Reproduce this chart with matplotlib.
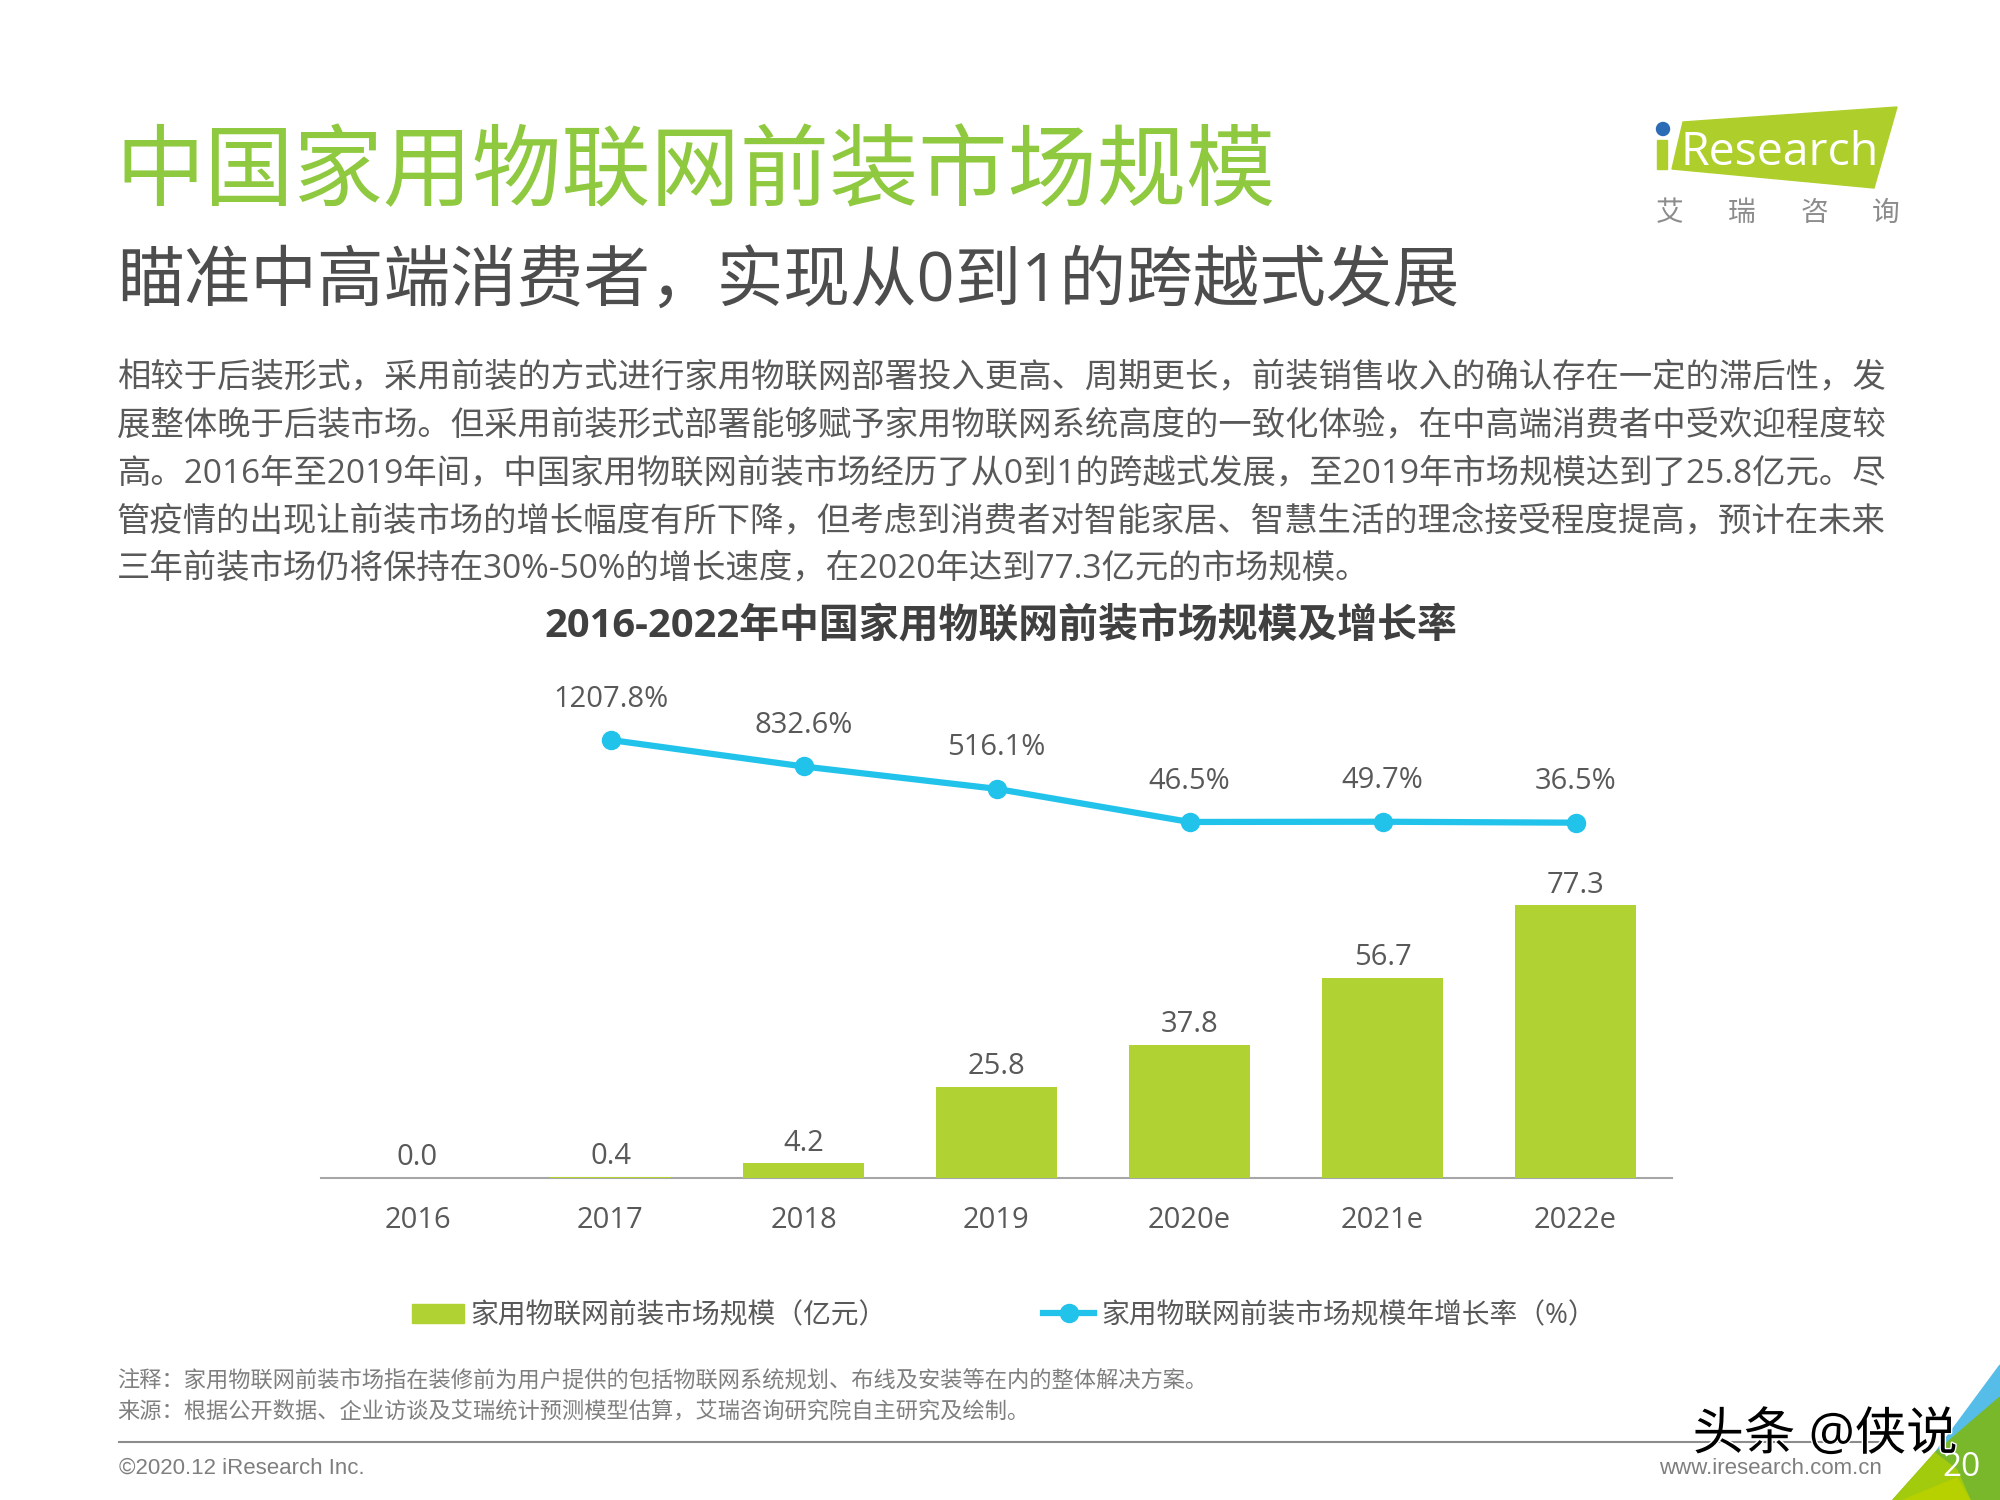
import matplotlib
matplotlib.use("Agg")
import matplotlib.pyplot as plt
import matplotlib.patheffects as pe
from matplotlib.patches import Polygon, Circle, Patch
from matplotlib.lines import Line2D

plt.rcParams["font.family"] = ["Open Sans", "Noto Sans CJK SC", "DejaVu Sans"]

# chart data
years = ["2016", "2017", "2018", "2019", "2020e", "2021e", "2022e"]
market_size = [0.0, 0.4, 4.2, 25.8, 37.8, 56.7, 77.3]
growth_years = [1, 2, 3, 4, 5, 6]
growth_rate = [1207.8, 832.6, 516.1, 46.5, 49.7, 36.5]
growth_labels = ["1207.8%", "832.6%", "516.1%", "46.5%", "49.7%", "36.5%"]

# page text
title = "中国家用物联网前装市场规模"
subtitle = "瞄准中高端消费者，实现从0到1的跨越式发展"
body_lines = [
    "相较于后装形式，采用前装的方式进行家用物联网部署投入更高、周期更长，前装销售收入的确认存在一定的滞后性，发",
    "展整体晚于后装市场。但采用前装形式部署能够赋予家用物联网系统高度的一致化体验，在中高端消费者中受欢迎程度较",
    "高。2016年至2019年间，中国家用物联网前装市场经历了从0到1的跨越式发展，至2019年市场规模达到了25.8亿元。尽",
    "管疫情的出现让前装市场的增长幅度有所下降，但考虑到消费者对智能家居、智慧生活的理念接受程度提高，预计在未来",
    "三年前装市场仍将保持在30%-50%的增长速度，在2020年达到77.3亿元的市场规模。",
]
chart_title = "2016-2022年中国家用物联网前装市场规模及增长率"
legend_bar = "家用物联网前装市场规模（亿元）"
legend_line = "家用物联网前装市场规模年增长率（%）"
note_lines = [
    "注释：家用物联网前装市场指在装修前为用户提供的包括物联网系统规划、布线及安装等在内的整体解决方案。",
    "来源：根据公开数据、企业访谈及艾瑞统计预测模型估算，艾瑞咨询研究院自主研究及绘制。",
]

GREEN = "#8FC93F"
BAR = "#B0D232"
LINE = "#22C3EB"
DARK = "#404040"
LABEL = "#595959"
W, H = 2000, 1500

fig = plt.figure(figsize=(20, 15), dpi=100, facecolor="white")

# chart axes, placed in page pixels
left, right, bottom, top = 321, 1672, 1178, 681
ax = fig.add_axes([left / W, 1 - bottom / H, (right - left) / W, (bottom - top) / H])
ax.set_xlim(-0.5, 6.5)
ax.set_ylim(0, 140.8)
ax.patch.set_alpha(0)
ax.bar(range(len(years)), market_size, width=0.625, color=BAR, zorder=3)
for i, v in enumerate(market_size):
    ax.annotate(f"{v:.1f}", (i, v), xytext=(0, 4), textcoords="offset points",
                ha="center", va="bottom", fontsize=21, color=LABEL)
ax.set_xticks(range(len(years)))
ax.set_xticklabels(years, fontsize=21, color=LABEL)
ax.tick_params(axis="x", length=0, pad=20)
ax.set_yticks([])
for s in ["top", "left", "right"]:
    ax.spines[s].set_visible(False)
ax.spines["bottom"].set_color("#A6A6A6")
ax.spines["bottom"].set_linewidth(1.5)

# growth line has its own hidden scale
ax2 = ax.twinx()
ax2.set_ylim(-4996, 2043)
ax2.plot(growth_years, growth_rate, color=LINE, linewidth=4.5, marker="o", markersize=13)
for x, y, t in zip(growth_years, growth_rate, growth_labels):
    ax2.annotate(t, (x, y), xytext=(0, 19), textcoords="offset points",
                 ha="center", va="bottom", fontsize=21, color=LABEL)
ax2.set_yticks([])
for s in ax2.spines.values():
    s.set_visible(False)

handles = [
    Patch(color=BAR, label=legend_bar),
    Line2D([], [], color=LINE, linewidth=4.5, marker="o", markersize=13, label=legend_line),
]
fig.legend(handles=handles, loc="center", bbox_to_anchor=(1004 / W, 1 - 1316 / H), ncol=2,
           frameon=False, fontsize=20, labelcolor=LABEL, columnspacing=5.62,
           handlelength=1.85, handletextpad=0.25, handleheight=0.7)

# overlay for everything else on the page
page = fig.add_axes([0, 0, 1, 1], zorder=5)
page.set_xlim(0, W)
page.set_ylim(H, 0)
page.axis("off")

page.text(115, 176, title, fontsize=64.3, color=GREEN, va="center")
page.text(117, 284, subtitle, fontsize=48, color="#4D4D4D", va="center")
for y, line in zip([379, 427, 475, 523, 570], body_lines):
    page.text(117, y, line, fontsize=24, color=LABEL, va="center")
page.text(1001, 627, chart_title, fontsize=28.7, color=DARK, weight="bold", ha="center", va="center")
for y, line in zip([1381, 1413], note_lines):
    page.text(117, y, line, fontsize=16, color="#7F7F7F", va="center")

# footer
page.plot([119, 1880], [1442, 1442], color="#8C8C8C", linewidth=1.5)
page.text(119, 1468, "©2020.12 iResearch Inc.", fontsize=16, color="#7F7F7F",
          family="Liberation Sans", va="center")
page.text(1882, 1468, "www.iresearch.com.cn", fontsize=16, color="#7F7F7F",
          family="Liberation Sans", ha="right", va="center")

# logo
page.add_patch(Polygon([(1683, 122), (1897, 107), (1874, 188), (1672, 169)], color="#AECF2B"))
page.add_patch(Polygon([(1657, 140), (1667, 140), (1667, 169), (1657, 169)], color="#AECF2B"))
page.add_patch(Circle((1663, 129), 6.5, color="#2B6CB5"))
page.text(1780, 153, "Research", fontsize=33.4, color="white", ha="center", va="center")
for x, ch in zip([1670, 1742, 1814, 1886], "艾瑞咨询"):
    page.text(x, 214, ch, fontsize=20, color="#8C8C8C", ha="center", va="center")

# corner decoration
page.add_patch(Polygon([(2000, 1365), (1935, 1453), (2000, 1397)], color="#55BDE8"))
page.add_patch(Polygon([(1935, 1453), (2000, 1397), (2000, 1500), (1893, 1500)], color="#79B82A"))
page.add_patch(Polygon([(1893, 1500), (1935, 1453), (1957, 1470), (1970, 1500)], color="#A2CB0E"))
page.add_patch(Polygon([(1903, 1500), (1957, 1478), (1970, 1500)], color="#B6D000"))
page.text(1962, 1467, "20", fontsize=24, color="white", ha="center", va="center")

# watermark
page.text(1825, 1436, "头条 @侠说", fontsize=37, color="black", ha="center", va="center",
          path_effects=[pe.withStroke(linewidth=2, foreground="white")])

fig.savefig("out.png", dpi=100)
